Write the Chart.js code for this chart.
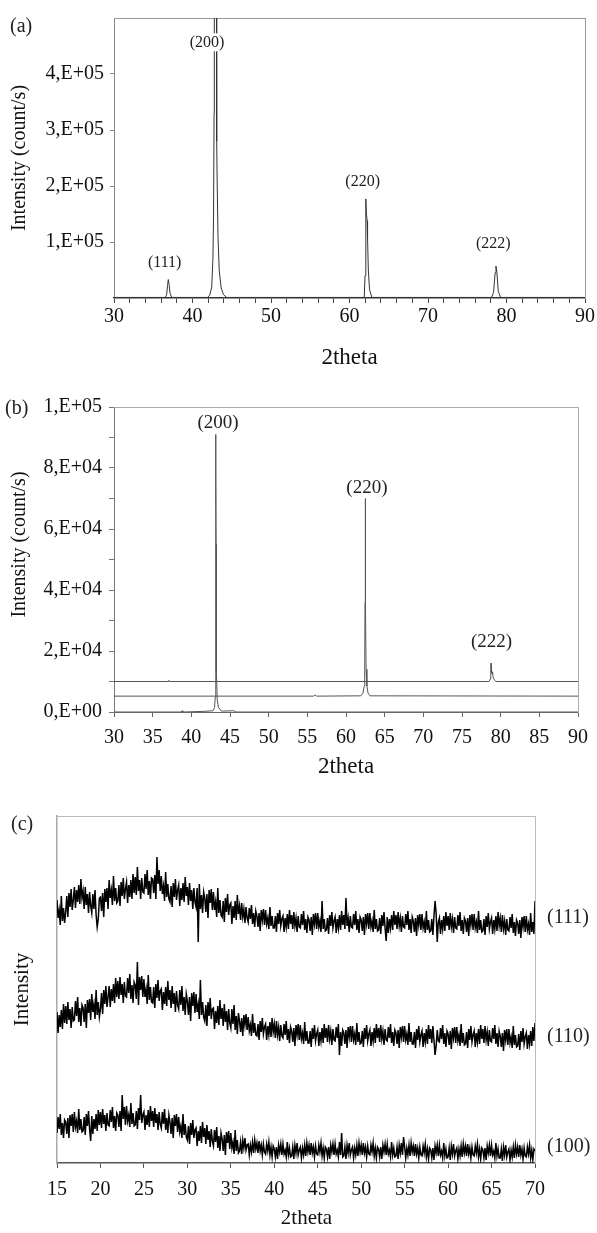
<!DOCTYPE html>
<html><head><meta charset="utf-8">
<script src="https://cdn.jsdelivr.net/npm/chart.js@4.4.1/dist/chart.umd.min.js"></script>
<style>
html,body{margin:0;padding:0;background:#fff;}
body{width:597px;height:1233px;position:relative;overflow:hidden;}
canvas{position:absolute;left:0;}
.pl{position:absolute;font:20px "Liberation Serif",serif;color:#222;line-height:20px;}
</style></head><body>
<canvas id="ca" width="597" height="380" style="top:0;width:597px;height:380px"></canvas>
<canvas id="cb" width="597" height="405" style="top:380px;width:597px;height:405px"></canvas>
<canvas id="cc" width="597" height="448" style="top:785px;width:597px;height:448px"></canvas>
<div class="pl" style="left:10px;top:15px">(a)</div>
<div class="pl" style="left:5px;top:397px">(b)</div>
<div class="pl" style="left:11px;top:813px">(c)</div>
<script>
// ---------- Panel (a) ----------
const aTheta = [30, 36.55, 36.7, 36.82, 36.92, 37.02, 37.15, 37.35,
  41.9, 42.2, 42.45, 42.6, 42.68, 42.75, 42.78, 43.05, 43.08, 43.15, 43.25, 43.4, 43.65, 43.95, 44.35,
  61.88, 61.98, 62.08, 62.15, 62.25, 62.3, 62.4, 62.55, 62.85,
  78.1, 78.35, 78.55, 78.66, 78.78, 78.95, 79.25, 90];
const aIntensity = [1000, 1000, 6000, 22000, 33000, 24000, 8000, 1000,
  1000, 5000, 20000, 70000, 143000, 330000, 600000, 600000, 280000, 200000, 110000, 50000, 18000, 6000, 1000,
  1000, 40000, 177000, 150000, 138000, 106000, 50000, 15000, 1000,
  1000, 10000, 45000, 57000, 45000, 12000, 1000, 1000];
const aXTicks = [30,32,34,36,38,40,42,44,46,48,50,52,54,56,58,60,62,64,66,68,70,72,74,76,78,80,82,84,86,88,90];
const aXTickLabels = ['30','','','','','40','','','','','50','','','','','60','','','','','70','','','','','80','','','','','90'];
const aYTicks = [0, 100000, 200000, 300000, 400000, 500000];
const aYTickLabels = ['', '1,E+05', '2,E+05', '3,E+05', '4,E+05', ''];
const aPeakNames = ['(111)', '(200)', '(220)', '(222)'];
const aPeakLabelTheta = [36.46, 41.85, 61.68, 78.32];
const aPeakLabelIntensity = [63750, 456600, 208000, 95900];

// ---------- Panel (b) ----------
const b1Theta = [30, 38.7, 38.8, 38.9, 41.6, 42.8, 43.0, 43.1, 43.14, 43.16, 43.18, 43.2, 43.22, 43.26, 43.35, 43.5, 43.9, 45.5, 45.8, 90];
const b1Intensity = [0, 0, 400, 0, 200, 400, 1500, 5000, 50000, 91000, 79000, 55000, 18000, 13000, 4000, 1500, 300, 400, 0, 0];
const b2Theta = [30, 55.8, 56.0, 56.2, 61.9, 62.2, 62.35, 62.42, 62.46, 62.48, 62.5, 62.52, 62.55, 62.6, 62.7, 62.85, 63.1, 90];
const b2Intensity = [5200, 5200, 5600, 5200, 5300, 6200, 8500, 14000, 36000, 50000, 70000, 50000, 36000, 14000, 8500, 6200, 5300, 5200];
const b3Theta = [30, 37.0, 37.1, 37.2, 78.5, 78.65, 78.72, 78.76, 78.8, 78.88, 78.95, 79.02, 79.15, 79.4, 90];
const b3Intensity = [10000, 10000, 10400, 10000, 10000, 10800, 12500, 16000, 13000, 12500, 13200, 11500, 10600, 10000, 10000];
const bXTicks = [30,35,40,45,50,55,60,65,70,75,80,85,90];
const bXTickLabels = ['30','35','40','45','50','55','60','65','70','75','80','85','90'];
const bYTicks = [0,10000,20000,30000,40000,50000,60000,70000,80000,90000,100000];
const bYTickLabels = ['0,E+00','','2,E+04','','4,E+04','','6,E+04','','8,E+04','','1,E+05'];
const bPeakNames = ['(200)', '(220)', '(222)'];
const bPeakLabelTheta = [43.46, 62.70, 78.83];
const bPeakLabelIntensity = [94850, 73500, 23050];

// ---------- Panel (c) : read at 0.125 deg steps from 15 to 70 ----------
const cThetaStart = 15, cThetaStep = 0.125;
const c111 = [
263,245,253,238,267,242,255,240, 251,267,246,270,256,274,253,263,
276,255,273,261,278,259,284,265, 272,254,276,258,269,250,271,257,
250,269,254,273,248,236,244,265, 266,252,270,246,274,261,275,254,
283,265,273,258,287,262,275,260, 262,278,257,281,267,285,264,274,
281,260,278,266,283,264,289,270, 286,268,296,272,283,264,285,271,
270,289,274,293,268,282,264,285, 284,270,288,264,306,279,293,272,
287,269,277,262,291,266,279,264, 261,277,256,280,266,284,263,273,
278,257,275,263,280,261,286,267, 276,258,280,262,273,254,275,261,
256,275,221,279,254,268,250,271, 265,251,269,245,273,260,274,253,
271,253,261,246,275,250,263,248, 246,262,241,265,251,269,248,258,
260,239,257,245,262,243,268,249, 257,243,260,246,254,240,256,245,
241,255,244,258,239,250,236,252, 247,236,250,232,253,243,254,238,
253,239,245,234,256,237,247,235, 235,247,231,250,239,253,237,244,
247,231,245,236,249,234,253,239, 248,234,251,237,245,231,247,236,
235,249,238,252,233,244,230,246, 243,232,246,228,249,239,250,234,
250,236,242,231,262,234,244,232, 233,245,229,248,237,251,235,242,
246,230,244,235,248,233,252,238, 248,234,265,237,245,231,247,236,
235,249,238,252,233,244,230,246, 243,232,246,228,249,239,250,234,
250,236,242,231,253,234,244,232, 233,245,229,248,237,251,235,222,
246,230,244,235,248,233,252,238, 248,234,251,237,245,231,247,236,
235,249,238,252,233,244,230,246, 242,231,245,227,248,238,249,233,
249,235,241,230,252,233,243,231, 232,244,228,247,262,250,221,241,
245,229,243,234,247,232,251,237, 247,233,250,236,244,230,246,235,
234,248,237,251,232,243,229,245, 242,231,245,227,248,238,249,233,
249,235,241,230,252,233,243,231, 232,244,228,247,236,250,234,241,
245,229,243,234,247,232,251,237, 245,231,248,234,242,228,244,233,
232,246,235,249,230,241,227,243, 240,229,243,225,246,236,247,231,
247,233,239,228,250,231,241,229,
262];
const c110 = [
151,130,148,136,153,134,159,140, 157,139,161,143,154,135,156,142,
143,162,147,166,141,155,137,158, 155,141,159,135,163,150,164,143,
169,151,159,144,173,148,161,146, 154,170,149,173,159,177,156,166,
177,156,174,162,179,160,185,166, 182,164,186,168,179,160,181,167,
166,185,170,189,164,178,160,181, 178,164,201,158,186,173,187,166,
184,166,174,159,188,163,176,161, 160,176,155,179,165,183,162,172,
174,153,171,159,176,157,182,163, 173,155,177,159,170,151,172,158,
154,173,158,177,152,166,148,169, 162,148,166,142,170,157,171,150,
169,151,159,144,183,148,161,146, 142,158,137,161,147,165,144,154,
155,134,152,140,157,138,163,144, 155,137,159,141,152,133,154,140,
135,154,139,158,133,147,129,150, 142,131,145,127,148,138,149,133,
146,132,138,127,149,130,140,128, 127,139,123,142,131,145,129,136,
139,123,137,128,141,126,145,131, 139,125,142,128,136,122,138,127,
125,139,128,142,123,134,120,136, 132,121,135,117,138,128,139,123,
138,124,130,119,141,122,132,120, 120,132,116,135,124,138,122,129,
133,117,131,122,135,120,139,125, 135,121,138,124,132,118,134,123,
122,136,125,139,108,131,117,133, 130,119,133,115,136,126,137,121,
137,123,129,118,140,121,131,119, 120,132,116,135,124,138,122,129,
133,117,131,122,135,120,139,125, 135,121,138,124,132,118,134,123,
122,136,125,139,120,131,117,133, 130,119,133,115,136,126,137,121,
137,123,129,118,140,121,131,119, 119,131,115,134,123,137,121,128,
132,116,130,121,134,119,138,124, 134,120,137,123,108,117,133,122,
121,135,124,138,119,130,116,132, 129,118,132,114,135,125,136,120,
136,122,128,117,139,120,130,118, 119,131,115,134,123,137,121,128,
132,116,130,121,134,119,138,124, 134,120,137,123,131,117,133,122,
121,135,124,138,119,130,116,132, 127,116,130,112,133,123,134,118,
134,120,126,115,137,118,128,116, 117,129,113,132,121,135,119,126,
130,114,128,119,132,117,136,122,
140];
const c100 = [
30,46,34,49,28,40,25,43, 41,29,45,25,48,37,49,31,
51,36,42,30,54,33,44,31, 32,46,28,49,37,52,34,22,
47,29,44,34,49,32,53,38, 51,35,54,39,48,32,50,38,
37,53,41,56,35,47,32,50, 48,36,52,32,68,44,56,38,
57,42,48,36,60,39,50,37, 38,52,34,55,43,68,40,48,
51,33,48,38,53,36,57,42, 52,36,55,40,49,33,51,39,
35,51,39,54,33,45,30,48, 41,29,45,25,48,37,49,31,
46,31,37,25,49,28,39,26, 23,37,19,40,28,43,25,33,
35,17,32,22,37,20,41,26, 35,19,38,23,32,16,34,22,
17,33,21,36,15,27,12,30, 24,12,28,8,31,20,32,14,
30,15,21,9,33,12,23,10, 12,21,9,23,15,25,13,18,
19,8,18,11,21,10,23,14, 20,10,22,12,18,8,19,11,
9,19,12,21,8,16,6,17, 14,6,16,4,18,11,19,8,
19,9,13,6,21,8,15,6, 7,16,4,18,10,20,8,13,
16,5,15,8,18,7,20,11, 18,8,20,10,16,6,17,9,
8,18,11,20,7,15,5,16, 14,6,16,4,18,11,19,8,
19,9,13,6,21,8,30,6, 7,16,4,18,10,20,8,13,
16,5,15,8,18,7,20,11, 18,8,20,10,16,6,17,9,
8,18,11,20,7,15,5,16, 14,6,16,4,18,11,19,8,
19,9,13,6,21,8,15,6, 7,16,4,18,10,20,8,26,
16,5,15,8,18,7,20,11, 17,7,19,9,15,5,16,8,
7,17,10,19,6,14,4,15, 13,5,15,3,17,10,18,7,
18,8,12,5,20,7,14,5, 6,15,3,17,9,19,7,12,
15,4,14,7,17,6,19,10, 17,7,19,9,15,5,16,8,
7,17,10,19,6,14,4,15, 13,5,15,3,17,10,18,7,
18,8,12,5,20,7,14,5, 5,14,2,16,8,18,6,11,
14,3,13,6,16,5,18,9, 16,6,18,8,14,4,15,7,
6,16,9,18,5,13,3,14,
12];
const cXTicks = [15,20,25,30,35,40,45,50,55,60,65,70];
const cXTickLabels = ['15','20','25','30','35','40','45','50','55','60','65','70'];
const cSampleNames = ['(111)', '(110)', '(100)'];
const cSampleLabelLevel = [245, 126, 16];

// ---------- helpers ----------
const SERIF = '"Liberation Serif", "Times New Roman", serif';
const pts = (xs, ys) => xs.map((x, i) => ({x: x, y: ys[i]}));
const cPts = ys => ys.map((y, i) => ({x: cThetaStart + i * cThetaStep, y: y}));
const setTicks = vals => s => { s.ticks = vals.map(v => ({value: v})); };

const textPlugin = {
  id: 'peakText',
  afterDatasetsDraw(chart, args, o) {
    if (!o || !o.names) return;
    const ctx = chart.ctx, xs = chart.scales.x, ys = chart.scales.y;
    ctx.save();
    ctx.font = o.font;
    ctx.textBaseline = 'middle';
    o.names.forEach((t, i) => {
      const py = ys.getPixelForValue(o.ys[i]);
      let px;
      if (o.outside) { px = chart.chartArea.right + o.outside; ctx.textAlign = 'left'; }
      else { px = xs.getPixelForValue(o.xs[i]); ctx.textAlign = 'center'; }
      if (o.bg) {
        const w = ctx.measureText(t).width;
        ctx.fillStyle = '#fff';
        ctx.fillRect(px - w / 2 - 1, py - 9, w + 2, 18);
      }
      ctx.fillStyle = o.color || '#222';
      ctx.fillText(t, px, py);
    });
    ctx.restore();
  }
};

function frame(color) {
  return {
    xTop: {type: 'linear', position: 'top', min: 0, max: 1, ticks: {display: false},
      grid: {display: false, drawTicks: false}, border: {display: true, color: color, width: 1},
      afterFit: s => { s.height = 0; }},
    yRight: {type: 'linear', position: 'right', min: 0, max: 1, ticks: {display: false},
      grid: {display: false, drawTicks: false}, border: {display: true, color: color, width: 1},
      afterFit: s => { s.width = 0; }}
  };
}

function baseOptions(pad) {
  return {
    responsive: false, animation: false, devicePixelRatio: 1,
    layout: {padding: pad},
    plugins: {legend: {display: false}, tooltip: {enabled: false}},
    elements: {point: {radius: 0}, line: {tension: 0}}
  };
}

// ---------- chart (a) ----------
const optA = baseOptions({top: 17, right: 12, left: 0, bottom: 0});
optA.scales = Object.assign({
  x: {type: 'linear', position: 'bottom', min: 30, max: 90,
    afterBuildTicks: setTicks(aXTicks),
    ticks: {autoSkip: false, maxRotation: 0, padding: 2, color: '#111',
      font: {family: SERIF, size: 20}, callback: (v, i) => aXTickLabels[i]},
    grid: {drawOnChartArea: false, tickLength: 5, color: '#444'},
    border: {color: '#333', width: 1.5},
    title: {display: true, text: '2theta', color: '#111', font: {family: SERIF, size: 23}, padding: {top: 0, bottom: 8}},
    afterFit: s => { s.height = 82; }},
  y: {type: 'linear', position: 'left', min: 0, max: 500000,
    afterBuildTicks: setTicks(aYTicks),
    ticks: {autoSkip: false, padding: 6, color: '#111',
      font: {family: SERIF, size: 20}, callback: (v, i) => aYTickLabels[i]},
    grid: {drawOnChartArea: false, tickLength: 4,
      tickColor: c => (c.index === 0 || c.index === aYTicks.length - 1) ? 'rgba(0,0,0,0)' : '#888'},
    border: {color: '#888', width: 1},
    title: {display: true, text: 'Intensity (count/s)', color: '#111', font: {family: SERIF, size: 20}, padding: {top: 8, bottom: 0}},
    afterFit: s => { s.width = 114; }}
}, frame('#999'));
optA.plugins.peakText = {names: aPeakNames, xs: aPeakLabelTheta, ys: aPeakLabelIntensity,
  font: '16px ' + SERIF, color: '#222', bg: true};
new Chart(document.getElementById('ca'), {
  type: 'scatter',
  data: {datasets: [{data: pts(aTheta, aIntensity), showLine: true, borderColor: '#333', borderWidth: 1, pointRadius: 0}]},
  options: optA,
  plugins: [textPlugin]
});

// ---------- chart (b) ----------
const optB = baseOptions({top: 27, right: 12, left: 0, bottom: 0});
optB.scales = Object.assign({
  x: {type: 'linear', position: 'bottom', min: 30, max: 90,
    afterBuildTicks: setTicks(bXTicks),
    ticks: {autoSkip: false, maxRotation: 0, padding: 9, color: '#111',
      font: {family: SERIF, size: 20}, callback: (v, i) => bXTickLabels[i]},
    grid: {drawOnChartArea: false, tickLength: 5, color: '#666'},
    border: {color: '#666', width: 1},
    title: {display: true, text: '2theta', color: '#111', font: {family: SERIF, size: 23}, padding: {top: 0, bottom: 4}},
    afterFit: s => { s.height = 73; }},
  y: {type: 'linear', position: 'left', min: 0, max: 100000,
    afterBuildTicks: setTicks(bYTicks),
    ticks: {autoSkip: false, padding: 7, color: '#111',
      font: {family: SERIF, size: 20}, callback: (v, i) => bYTickLabels[i]},
    grid: {drawOnChartArea: false, tickLength: 5, color: '#777'},
    border: {color: '#777', width: 1},
    title: {display: true, text: '\u00a0\u00a0\u00a0\u00a0\u00a0\u00a0Intensity (count/s)', color: '#111', font: {family: SERIF, size: 20}, padding: {top: 8, bottom: 0}},
    afterFit: s => { s.width = 114; }}
}, frame('#aaa'));
optB.plugins.peakText = {names: bPeakNames, xs: bPeakLabelTheta, ys: bPeakLabelIntensity,
  font: '19px ' + SERIF, color: '#222', bg: false};
new Chart(document.getElementById('cb'), {
  type: 'scatter',
  data: {datasets: [
    {data: pts(b1Theta, b1Intensity), showLine: true, borderColor: '#555', borderWidth: 1, pointRadius: 0},
    {data: pts(b2Theta, b2Intensity), showLine: true, borderColor: '#555', borderWidth: 1, pointRadius: 0},
    {data: pts(b3Theta, b3Intensity), showLine: true, borderColor: '#555', borderWidth: 1, pointRadius: 0}
  ]},
  options: optB,
  plugins: [textPlugin]
});

// ---------- chart (c) ----------
const optC = baseOptions({top: 31, right: 62, left: 0, bottom: 0});
optC.scales = Object.assign({
  x: {type: 'linear', position: 'bottom', min: 15, max: 70,
    afterBuildTicks: setTicks(cXTicks),
    ticks: {autoSkip: false, maxRotation: 0, padding: 10, color: '#111',
      font: {family: SERIF, size: 20}, callback: (v, i) => cXTickLabels[i]},
    grid: {drawOnChartArea: false, tickLength: 5, color: '#555'},
    border: {color: '#555', width: 1.5},
    title: {display: true, text: '\u00a0\u00a0\u00a0\u00a02theta', color: '#111', font: {family: SERIF, size: 21}, padding: {top: 0, bottom: 2}},
    afterFit: s => { s.height = 70; }},
  y: {type: 'linear', position: 'left', min: 0, max: 347,
    ticks: {display: false},
    grid: {display: false, drawTicks: false},
    border: {color: '#aaa', width: 1.5},
    title: {display: true, text: 'Intensity', color: '#111', font: {family: SERIF, size: 21}, padding: {top: 10, bottom: 0}},
    afterFit: s => { s.width = 57; }}
}, frame('#bbb'));
optC.plugins.peakText = {names: cSampleNames, ys: cSampleLabelLevel, outside: 12,
  font: '20px ' + SERIF, color: '#222', bg: false};
new Chart(document.getElementById('cc'), {
  type: 'scatter',
  data: {datasets: [
    {data: cPts(c111), showLine: true, borderColor: '#000', borderWidth: 1.5, pointRadius: 0},
    {data: cPts(c110), showLine: true, borderColor: '#000', borderWidth: 1.5, pointRadius: 0},
    {data: cPts(c100), showLine: true, borderColor: '#000', borderWidth: 1.5, pointRadius: 0}
  ]},
  options: optC,
  plugins: [textPlugin]
});
</script>
</body></html>
